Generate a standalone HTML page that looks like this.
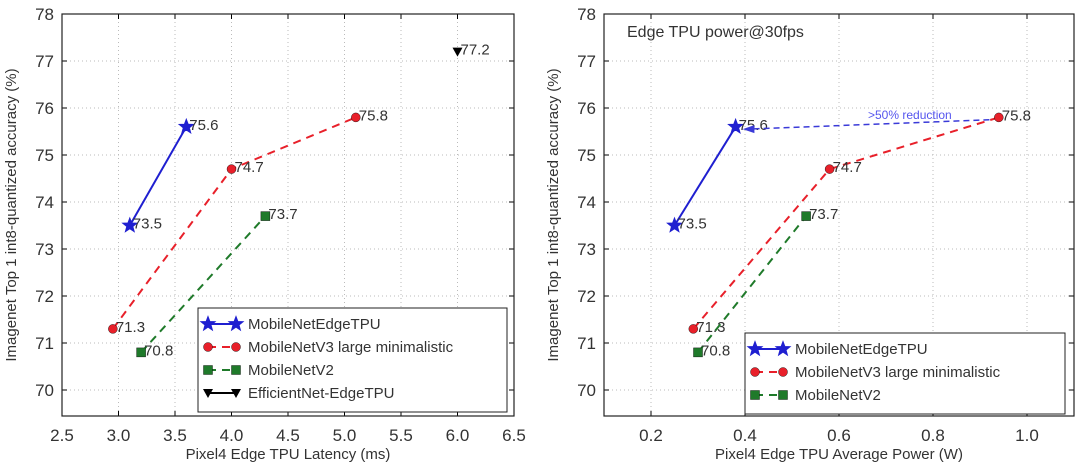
<!DOCTYPE html>
<html><head><meta charset="utf-8"><style>
body{margin:0;background:#fff;}
svg{display:block;font-family:"Liberation Sans","DejaVu Sans",sans-serif;}
</style></head><body>
<svg id="c" width="1080" height="466" viewBox="0 0 1080 466"></svg>
<script>
const yTicks=[70,71,72,73,74,75,76,77,78];
const leftXTicks=[2.5,3.0,3.5,4.0,4.5,5.0,5.5,6.0,6.5];
const rightXTicks=[0.2,0.4,0.6,0.8,1.0];
const leftBlueX=[3.1,3.6], leftBlueY=[73.5,75.6];
const leftRedX=[2.95,4.0,5.1], leftRedY=[71.3,74.7,75.8];
const leftGreenX=[3.2,4.3], leftGreenY=[70.8,73.7];
const leftBlackX=[6.0], leftBlackY=[77.2];
const rightBlueX=[0.25,0.38], rightBlueY=[73.5,75.6];
const rightRedX=[0.29,0.58,0.94], rightRedY=[71.3,74.7,75.8];
const rightGreenX=[0.30,0.53], rightGreenY=[70.8,73.7];
const NS="http://www.w3.org/2000/svg";
const svg=document.getElementById('c');
function el(tag,attrs,parent,text){const e=document.createElementNS(NS,tag);for(const k in attrs)e.setAttribute(k,attrs[k]);if(text!==undefined)e.textContent=text;(parent||svg).appendChild(e);return e;}
function star(cx,cy,r){let p=[];for(let i=0;i<10;i++){const a=-Math.PI/2+i*Math.PI/5;const rr=i%2?r*0.42:r;p.push((cx+rr*Math.cos(a)).toFixed(1)+','+(cy+rr*Math.sin(a)).toFixed(1));}return p.join(' ');}
function marker(g,type,x,y,color){
  let m;
  if(type==='star')m=el('polygon',{points:star(x,y,7.5),fill:color,stroke:color},g);
  else if(type==='circle')m=el('circle',{cx:x,cy:y,r:4.5,fill:color,stroke:'#000','stroke-width':0.4},g);
  else if(type==='square')m=el('rect',{x:x-4.5,y:y-4.5,width:9,height:9,fill:color,stroke:'#000','stroke-width':0.4},g);
  else m=el('polygon',{points:`${x-5},${y-4} ${x+5},${y-4} ${x},${y+5}`,fill:color},g);
  
  
}
function panel(o){
  const g=el('g',{});
  
  
  const X=v=>o.x0+(v-o.xmin)/(o.xmax-o.xmin)*(o.x1-o.x0);
  const Yv=v=>14+(78-v)*47;
  o.xticks.forEach(t=>{
    const l=el('line',{x1:X(t),x2:X(t),y1:o.y0,y2:o.y1,stroke:'#bbb','stroke-dasharray':'1,3'},g);
    
    const tx=el('text',{x:X(t),y:o.y1+25,'text-anchor':'middle','font-size':17,fill:'#333'},g,o.xfmt(t));
    
    el('line',{x1:X(t),x2:X(t),y1:o.y1,y2:o.y1-5,stroke:'#000'},g);
    el('line',{x1:X(t),x2:X(t),y1:o.y0,y2:o.y0+5,stroke:'#000'},g);
  });
  yTicks.forEach(t=>{
    const l=el('line',{x1:o.x0,x2:o.x1,y1:Yv(t),y2:Yv(t),stroke:'#bbb','stroke-dasharray':'1,3'},g);
    
    const tx=el('text',{x:o.x0-8,y:Yv(t)+6,'text-anchor':'end','font-size':17,fill:'#333'},g,String(t));
    
    el('line',{x1:o.x0,x2:o.x0+5,y1:Yv(t),y2:Yv(t),stroke:'#000'},g);
    el('line',{x1:o.x1,x2:o.x1-5,y1:Yv(t),y2:Yv(t),stroke:'#000'},g);
  });
  const fr=el('rect',{x:o.x0,y:o.y0,width:o.x1-o.x0,height:o.y1-o.y0,fill:'none',stroke:'#222','stroke-width':1.2},g);
  
  const xt=el('text',{x:(o.x0+o.x1)/2,y:459,'text-anchor':'middle','font-size':15,fill:'#333'},g,o.xtitle);
  
  const yt=el('text',{x:0,y:0,'text-anchor':'middle','font-size':15,fill:'#333',transform:`translate(${o.x0-46},${(o.y0+o.y1)/2}) rotate(-90)`},g,'Imagenet Top 1 int8-quantized accuracy (%)');
  
  o.series.forEach(s=>{
    if(s.xs.length>1){
      const pl=el('polyline',{points:s.xs.map((x,i)=>X(x)+','+Yv(s.ys[i])).join(' '),fill:'none',stroke:s.color,'stroke-width':2,'stroke-dasharray':s.dash||'none'},g);
      
    }
    s.xs.forEach((x,i)=>{
      marker(g,s.marker,X(x),Yv(s.ys[i]),s.color);
      const lb=el('text',{x:X(x)+3,y:Yv(s.ys[i])+3,'font-size':15,fill:'#333'},g,s.ys[i].toFixed(1));
      
    });
  });
  const lg=el('g',{},g);
  
  el('rect',{x:o.lx,y:o.ly,width:o.lw,height:o.series.length*23+12,fill:'#fff',stroke:'#222'},lg);
  o.series.forEach((s,i)=>{
    const yy=o.ly+16+i*23;
    const e=el('g',{},lg);
    
    el('line',{x1:o.lx+10,x2:o.lx+38,y1:yy,y2:yy,stroke:s.color,'stroke-width':2,'stroke-dasharray':s.dash||'none'},e);
    marker(e,s.marker,o.lx+10,yy,s.color);marker(e,s.marker,o.lx+38,yy,s.color);
    el('text',{x:o.lx+50,y:yy+5,'font-size':15,fill:'#333'},e,s.label);
  });
  return {g,X,Yv};
}
const L=panel({name:'latency-panel',x0:62,x1:514,y0:14,y1:416,xmin:2.5,xmax:6.5,xticks:leftXTicks,xfmt:t=>t.toFixed(1),xtitle:'Pixel4 Edge TPU Latency (ms)',lx:198,ly:308,lw:309,
 series:[{id:'edgetpu',xs:leftBlueX,ys:leftBlueY,color:'#1f1fd0',marker:'star',label:'MobileNetEdgeTPU'},
 {id:'v3',xs:leftRedX,ys:leftRedY,color:'#e8202a',marker:'circle',dash:'8,6',label:'MobileNetV3 large minimalistic'},
 {id:'v2',xs:leftGreenX,ys:leftGreenY,color:'#1f7a2a',marker:'square',dash:'8,6',label:'MobileNetV2'},
 {id:'effnet',xs:leftBlackX,ys:leftBlackY,color:'#000',marker:'tri',label:'EfficientNet-EdgeTPU'}]});
const R=panel({name:'power-panel',x0:604,x1:1074,y0:14,y1:416,xmin:0.1,xmax:1.1,xticks:rightXTicks,xfmt:t=>t.toFixed(1),xtitle:'Pixel4 Edge TPU Average Power (W)',lx:745,ly:333,lw:320,
 series:[{id:'edgetpu',xs:rightBlueX,ys:rightBlueY,color:'#1f1fd0',marker:'star',label:'MobileNetEdgeTPU'},
 {id:'v3',xs:rightRedX,ys:rightRedY,color:'#e8202a',marker:'circle',dash:'8,6',label:'MobileNetV3 large minimalistic'},
 {id:'v2',xs:rightGreenX,ys:rightGreenY,color:'#1f7a2a',marker:'square',dash:'8,6',label:'MobileNetV2'}]});
const t=el('text',{x:627,y:37,'font-size':16,fill:'#333'},R.g,'Edge TPU power@30fps');

const ax=el('line',{x1:R.X(0.92),y1:R.Yv(75.75),x2:R.X(0.405),y2:R.Yv(75.55),stroke:'#3a3ad8','stroke-width':1.5,'stroke-dasharray':'6,4'},R.g);

const ah=el('polygon',{points:`${R.X(0.395)},${R.Yv(75.55)} ${R.X(0.42)},${R.Yv(75.55)-4} ${R.X(0.42)},${R.Yv(75.55)+4}`,fill:'#3a3ad8'},R.g);

const rt=el('text',{x:868,y:119,'font-size':12,fill:'#5555ee'},R.g,'>50% reduction');

</script>
</body></html>
